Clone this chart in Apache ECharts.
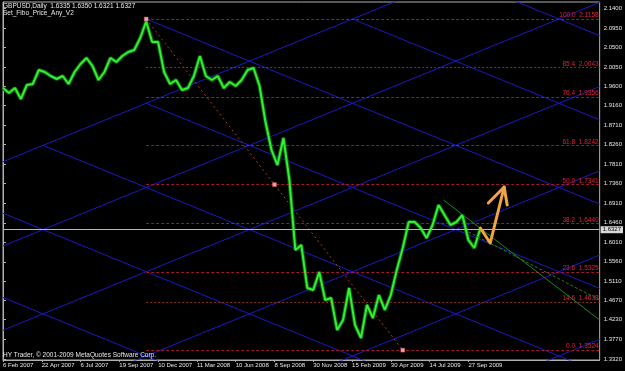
<!DOCTYPE html>
<html><head><meta charset="utf-8">
<script src="https://cdn.jsdelivr.net/npm/echarts@6/dist/echarts.min.js"></script>
<style>html,body{margin:0;padding:0;background:#000;}#c{width:625px;height:371px;}</style>
</head><body><div id="c"></div>
<script>
// ---- data ----
const xTickBars = [0,52,104,156,208,260,312,364,416,468,520,572,624];
const xTickLabels = ['6 Feb 2007','22 Apr 2007','6 Jul 2007','19 Sep 2007','10 Dec 2007','11 Mar 2008','10 Jun 2008','8 Sep 2008','30 Nov 2008','15 Feb 2009','30 Apr 2009','14 Jul 2009','27 Sep 2009'];
const yTickValues = [2.1400,2.0950,2.0500,2.0050,1.9600,1.9160,1.8710,1.8260,1.7810,1.7360,1.6910,1.6460,1.6010,1.5560,1.5110,1.4670,1.4230,1.3770,1.3320];
const priceStep = 8; // bars between samples
const price = [1.9567,1.9452,1.9567,1.9314,1.9636,1.9660,1.9982,1.9936,1.9844,1.9775,
 1.9844,1.9660,1.9936,2.0121,2.0259,2.0074,1.9752,1.9936,2.0259,2.0167,
 2.0305,2.0397,2.0443,2.0720,2.1100,2.0628,2.0628,1.9936,1.9660,1.9752,
 1.9521,1.9567,1.9844,2.0305,1.9844,1.9752,1.9844,1.9567,1.9706,1.9613,
 1.9752,1.9982,2.0028,1.9613,1.8784,1.8138,1.7792,1.8415,1.7446,1.5833,
 1.5948,1.4957,1.4911,1.5326,1.4680,1.4726,1.3989,1.4219,1.4957,1.4104,
 1.3804,1.4565,1.4265,1.4795,1.4450,1.4795,1.5372,1.5879,1.6478,1.6478,
 1.6340,1.6109,1.6409,1.6870,1.6640,1.6409,1.6478,1.6640,1.6063,1.5879,1.6327];
const lastPrice = 1.6327;
const fibStart = [192, 2.1158];
const fibEnd = [536, 1.3524];
const fibLevels = [100.0, 85.4, 76.4, 61.8, 50.0, 38.2, 23.6, 14.6, 0.0];
const fibPrices = [2.1158, 2.0043, 1.9356, 1.8242, 1.7341, 1.6440, 1.5325, 1.4638, 1.3524];
const blueLines = [
 [192,2.1158,800,1.6890],[192,1.9216,800,1.4948],[53.7,1.8245,800,1.3006],
 [0,1.6680,800,1.1064],[0,1.4738,800,0.9122],[468.6,2.1158,800,1.8832],[607,2.2129,800,2.0774],
 [0,1.7868,800,2.3484],[0,1.5926,800,2.1542],[0,1.3984,800,1.9600],
 [0,1.2042,800,1.7658],[0,1.0100,800,1.5716],[0,0.8158,800,1.3774]
];
const greenLines = [[590.7,1.6985,800,1.4219],[624,1.6248,800,1.4680]];
const arrowPath = [[640,1.6340],[653.3,1.5994],[672,1.7285]];
const arrowHead = [[650.7,1.6916],[672,1.7285],[676,1.6870]];
const yMin = 1.32968, yMax = 2.15498, xMax = 800;

// ---- chart ----
const chart = echarts.init(document.getElementById('c'));
const font = 'Liberation Sans, Arial, sans-serif';
const series = [];
blueLines.forEach(s => series.push({type:'line', data:[[s[0],s[1]],[s[2],s[3]]], showSymbol:false, silent:true,
  lineStyle:{color:'#1a1ac4', width:1}, clip:true, z:2}));
series.push({type:'line', data:[], silent:true, z:3,
  markLine:{symbol:['none','none'], silent:true, animation:false,
   data: fibPrices.map((p,i)=>{
     const brown = (fibLevels[i]===85.4 || fibLevels[i]===14.6);
     return [{coord:[fibStart[0],p], lineStyle:{color: brown?'#8a3412':'#a0182c', width:1, type: brown?[2,2]:[3,2]},
        label:{show:true, position:'insideEndTop', distance:[1,0], formatter: fibLevels[i].toFixed(1)+'  '+p.toFixed(4),
          color:'#e0203a', fontSize:6.5, fontFamily:font}},
       {coord:[xMax,p]}];
   })}});
series.push({type:'line', data:[fibStart, fibEnd], showSymbol:false, silent:true, z:3,
  lineStyle:{color:'#a8401a', width:1, type:[2,3]}});
series.push({type:'line', data: price.map((v,i)=>[i*priceStep, v]), showSymbol:false, silent:true, z:4,
  lineStyle:{color:'#0a620a', width:4}});
series.push({type:'line', data: price.map((v,i)=>[i*priceStep, v]), showSymbol:false, silent:true, z:5,
  lineStyle:{color:'#36ee36', width:2},
  markLine:{symbol:['none','none'], silent:true, animation:false,
   data:[{yAxis:lastPrice, lineStyle:{color:'#b8b8b8', width:1, type:'solid'},
     label:{show:true, position:'end', distance:1, formatter: lastPrice.toFixed(4), color:'#000', backgroundColor:'#d8d8d8',
       padding:[1,2,0,2], fontSize:6, fontFamily:font}}]}});
greenLines.forEach((s,i) => series.push({type:'line', data:[[s[0],s[1]],[s[2],s[3]]], showSymbol:false, silent:true, z:6,
  lineStyle:{color: i===0?'#1f8a1f':'#2a7a2a', width:1, type: i===0?'solid':[3,2]}}));
series.push({type:'line', data:arrowPath, showSymbol:false, silent:true, z:7, lineStyle:{color:'#f2a444', width:3, cap:'round', join:'round'}});
series.push({type:'line', data:arrowHead, showSymbol:false, silent:true, z:7, lineStyle:{color:'#f2a444', width:3, cap:'round', join:'round'}});
series.push({type:'scatter', data:[fibStart, [(fibStart[0]+fibEnd[0])/2,(fibStart[1]+fibEnd[1])/2], fibEnd], symbol:'rect', symbolSize:4, silent:true, z:8,
  itemStyle:{color:'#ffd0d0', borderColor:'#e04040', borderWidth:0.5}});

chart.setOption({
  backgroundColor:'#000',
  animation:false,
  textStyle:{fontFamily:font},
  title:[
   {text:'GBPUSD,Daily  1.6335 1.6350 1.6321 1.6327', left:3, top:3, padding:0, textStyle:{color:'#e8e8e8', fontSize:6.5, fontWeight:'normal', fontFamily:font}},
   {text:'Set_Fibo_Price_Any_V2', left:3, top:10, padding:0, textStyle:{color:'#e8e8e8', fontSize:6.5, fontWeight:'normal', fontFamily:font}},
   {text:'HY Trader, \u00a9 2001-2009 MetaQuotes Software Corp.', left:3, top:352, padding:0, textStyle:{color:'#e8e8e8', fontSize:6.5, fontWeight:'normal', fontFamily:font}}
  ],
  grid:{left:2, right:23, top:2, bottom:11, show:true, borderColor:'#b0b0b0', borderWidth:1, backgroundColor:'#000'},
  xAxis:{type:'value', min:0, max:xMax, splitLine:{show:false},
    axisLine:{show:true, lineStyle:{color:'#b0b0b0'}},
    axisTick:{show:true, customValues:xTickBars, length:2, lineStyle:{color:'#b0b0b0'}},
    axisLabel:{customValues:xTickBars, formatter:v=>xTickLabels[xTickBars.indexOf(v)], align:'left', margin:2, fontSize:6, color:'#e8e8e8', hideOverlap:false, showMaxLabel:true, showMinLabel:true}},
  yAxis:{type:'value', position:'right', min:yMin, max:yMax, splitLine:{show:false},
    axisLine:{show:true, lineStyle:{color:'#b0b0b0'}},
    axisTick:{show:true, customValues:yTickValues, length:3, lineStyle:{color:'#b0b0b0'}},
    axisLabel:{customValues:yTickValues, formatter:v=>v.toFixed(4), margin:4, fontSize:6, color:'#e8e8e8', hideOverlap:false}},
  series
});
</script></body></html>
